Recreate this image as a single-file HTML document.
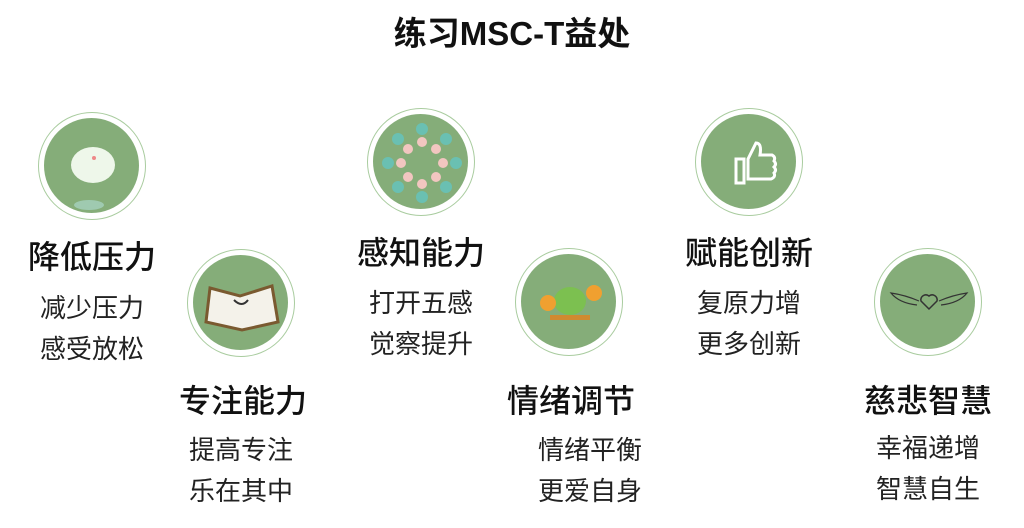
<!DOCTYPE html>
<html><head><meta charset="utf-8"><style>
body{margin:0;width:1024px;height:528px;background:#fff;position:relative;overflow:hidden;font-family:"Liberation Sans","Noto Sans CJK SC",sans-serif;color:#111}
.t{position:absolute;left:0;width:1024px;top:7px;text-align:center;font-size:33px;font-weight:bold}
.c{position:absolute;width:108px;height:108px;border-radius:50%;border:1.5px solid #a9cc9f;box-sizing:border-box}
.c i{position:absolute;left:5px;top:5px;width:95px;height:95px;border-radius:50%;background:#85ad79}
.h{position:absolute;font-size:32px;width:200px;text-align:center;font-weight:500}
.s{position:absolute;font-size:26px;width:200px;text-align:center;line-height:41px;color:#222}
svg{position:absolute;left:0;top:0}
</style></head><body>
<div class="t">练习MSC-T益处</div>

<div class="c" style="left:38px;top:112px"><i></i><svg width="108" height="108"><ellipse cx="54" cy="52" rx="22" ry="18" fill="#eef7ea"/><ellipse cx="50" cy="92" rx="15" ry="5" fill="#9fcab0"/><circle cx="55" cy="45" r="2" fill="#e88"/></svg></div>
<div class="h" style="left:-8px;top:232px">降低压力</div>
<div class="s" style="left:-8px;top:288px">减少压力<br>感受放松</div>

<div class="c" style="left:187px;top:249px"><i></i><svg width="108" height="108"><path d="M22 38 L52 46 L84 36 L90 72 L54 80 L18 72Z" fill="#f4f2ea" stroke="#7a5a30" stroke-width="3"/><path d="M46 50 q8 8 14 0" stroke="#333" fill="none" stroke-width="2"/></svg></div>
<div class="h" style="left:143px;top:376px">专注能力</div>
<div class="s" style="left:141px;top:430px">提高专注<br>乐在其中</div>

<div class="c" style="left:367px;top:108px"><i></i><svg width="108" height="108"><g fill="#6ac0b2"><circle cx="54" cy="20" r="6"/><circle cx="54" cy="88" r="6"/><circle cx="20" cy="54" r="6"/><circle cx="88" cy="54" r="6"/><circle cx="30" cy="30" r="6"/><circle cx="78" cy="78" r="6"/><circle cx="78" cy="30" r="6"/><circle cx="30" cy="78" r="6"/></g><g fill="#f2c6c0"><circle cx="54" cy="33" r="5"/><circle cx="54" cy="75" r="5"/><circle cx="33" cy="54" r="5"/><circle cx="75" cy="54" r="5"/><circle cx="40" cy="40" r="5"/><circle cx="68" cy="68" r="5"/><circle cx="68" cy="40" r="5"/><circle cx="40" cy="68" r="5"/></g></svg></div>
<div class="h" style="left:321px;top:228px">感知能力</div>
<div class="s" style="left:321px;top:283px">打开五感<br>觉察提升</div>

<div class="c" style="left:515px;top:248px"><i></i><svg width="108" height="108"><ellipse cx="54" cy="52" rx="16" ry="14" fill="#7cc050"/><circle cx="32" cy="54" r="8" fill="#f0a030"/><circle cx="78" cy="44" r="8" fill="#f0a030"/><rect x="34" y="66" width="40" height="5" fill="#d08a30"/></svg></div>
<div class="h" style="left:471px;top:376px">情绪调节</div>
<div class="s" style="left:490px;top:430px">情绪平衡<br>更爱自身</div>

<div class="c" style="left:695px;top:108px"><i></i><svg width="108" height="108"><path d="M40 50 h8 v24 h-8z M52 50 l8 -16 q6 0 4 12 h12 q4 2 2 6 q3 3 0 6 q3 3 0 6 q2 4 -3 6 h-23z" fill="none" stroke="#fff" stroke-width="3"/></svg></div>
<div class="h" style="left:649px;top:228px">赋能创新</div>
<div class="s" style="left:649px;top:283px">复原力增<br>更多创新</div>

<div class="c" style="left:874px;top:248px"><i></i><svg width="108" height="108"><path d="M54 60 l-8 -8 a5 5 0 0 1 8 -5 a5 5 0 0 1 8 5z" fill="none" stroke="#333" stroke-width="1.5"/><path d="M44 52 q-14 -6 -28 -8 q8 10 26 12 M64 52 q14 -6 28 -8 q-8 10 -26 12" fill="none" stroke="#333" stroke-width="1.2"/></svg></div>
<div class="h" style="left:828px;top:376px">慈悲智慧</div>
<div class="s" style="left:828px;top:428px">幸福递增<br>智慧自生</div>
</body></html>
